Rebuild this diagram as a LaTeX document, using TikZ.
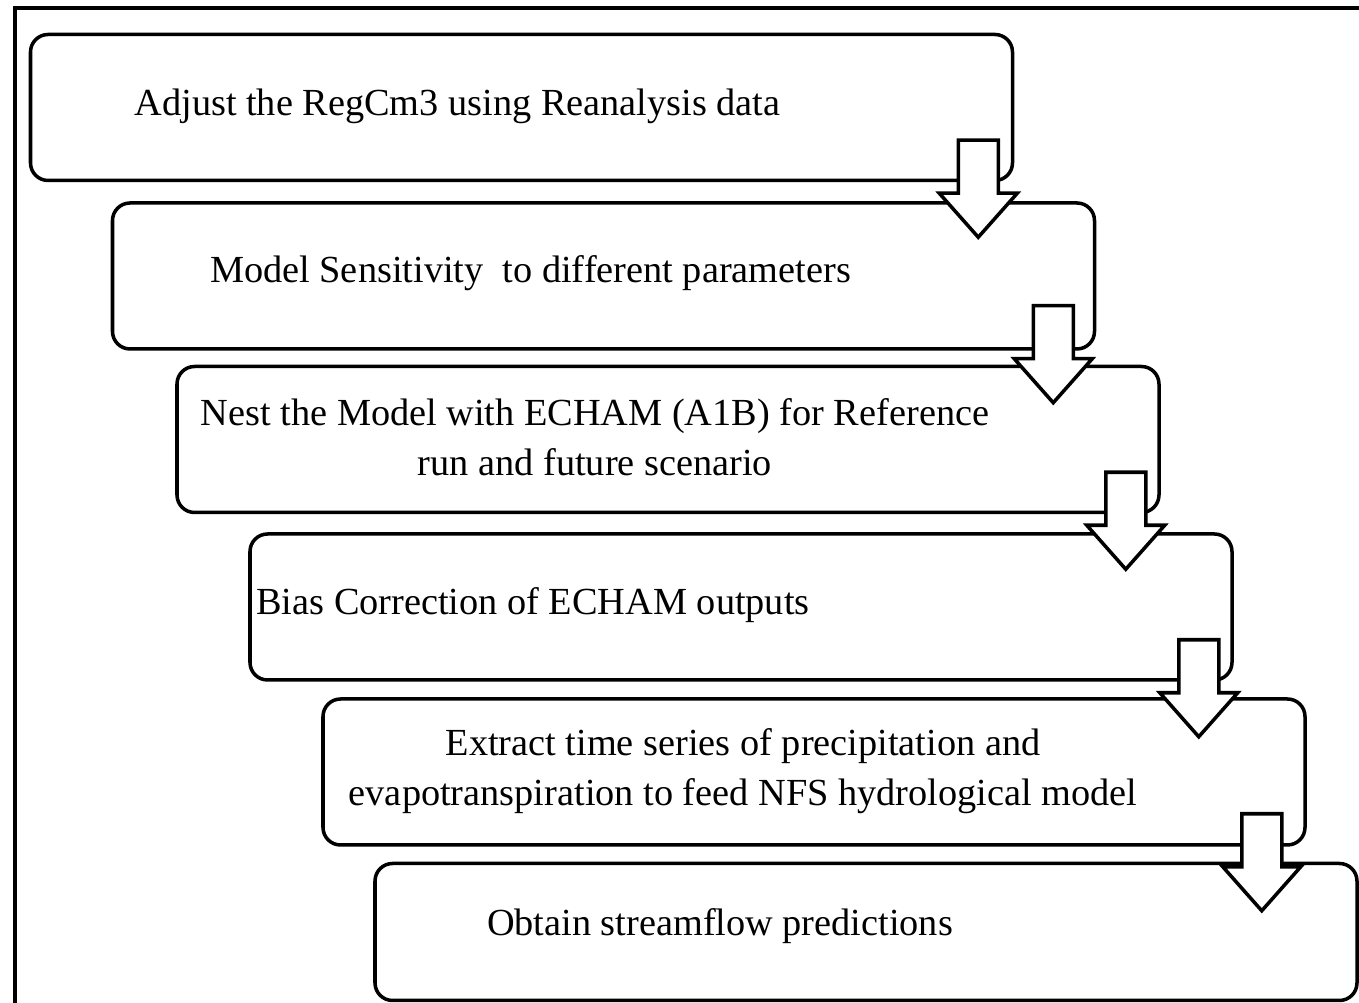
\documentclass[tikz,border=0pt]{standalone}
\usepackage{fontspec}
\setmainfont{Liberation Serif}
\usetikzlibrary{calc}

% block arrow between two steps, #1 upper box, #2 x offset, #3 y offset
\newcommand{\stepArrow}[3]{%
	\draw[arrowbox] ($(#1.south east)+(#2-0.20,#3)$) -- ++(0.40,0) -- ++(0,-0.53)
		-- ++(0.19,0) -- ++(-0.39,-0.44) -- ++(-0.39,0.44) -- ++(0.19,0) -- cycle;}

\begin{document}
\begin{tikzpicture}[
	stepbox/.style = {draw, line width=1pt, rounded corners=5pt, fill=white,
		minimum width=9.82cm, minimum height=1.46cm},
	steptext/.style = {font=\fontsize{10.9}{14.2}\selectfont, align=center},
	arrowbox/.style = {draw, line width=1pt, fill=white, line join=miter}]
	\useasboundingbox (0,0) rectangle (13.59,-10.03);
	\draw[line width=1.2pt] (0.15,-10.2) -- (0.15,-0.08) -- (13.8,-0.08);

	\node (B1) at ( 5.215, -1.075)	[stepbox]	{};
	\node (B2) at ( 6.035, -2.760)	[stepbox]	{};
	\node (B3) at ( 6.680, -4.395)	[stepbox]	{};
	\node (B4) at ( 7.410, -6.070)	[stepbox]	{};
	\node (B5) at ( 8.140, -7.720)	[stepbox]	{};
	\node (B6) at ( 8.660, -9.320)	[stepbox, minimum height=1.37cm]	{};

	\node (T1) at ( 4.575, -1.060)	[steptext]	{Adjust the RegCm3 using Reanalysis  data};
	\node (T2) at ( 5.305, -2.730)	[steptext]	{Model Sensitivity \ to different parameters};
	\node (T3) at ( 5.950, -4.370)	[steptext]	{Nest the Model with ECHAM (A1B) for Reference\\run and future scenario};
	\node (T4) at ( 5.330, -6.050)	[steptext]	{Bias Correction of ECHAM outputs};
	\node (T5) at ( 7.430, -7.715)	[steptext]	{Extract time series of precipitation and\\evapotranspiration to feed NFS hydrological model};
	\node (T6) at ( 7.200, -9.260)	[steptext]	{Obtain streamflow predictions};

	\stepArrow{B1}{-0.36}{0.42}
	\stepArrow{B2}{-0.43}{0.45}
	\stepArrow{B3}{-0.35}{0.42}
	\stepArrow{B4}{-0.35}{0.42}
	\stepArrow{B5}{-0.45}{0.33}
\end{tikzpicture}
\end{document}
